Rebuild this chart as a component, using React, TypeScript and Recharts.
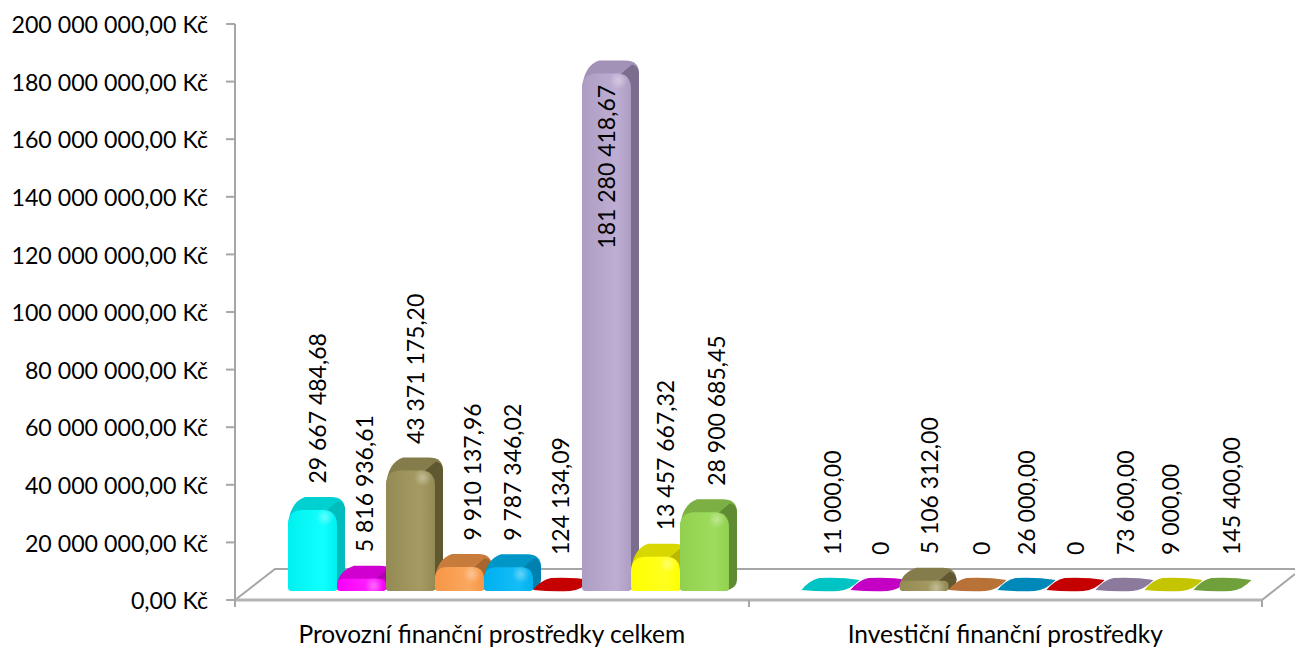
import { Bar, BarChart, LabelList, XAxis, YAxis } from "recharts";

const categories = ["Provozní finanční prostředky celkem", "Investiční finanční prostředky"];
const provozni = [29667484.68, 5816936.61, 43371175.2, 9910137.96, 9787346.02, 124134.09, 181280418.67, 13457667.32, 28900685.45];
const investicni = [11000, 0, 5106312, 0, 26000, 0, 73600, 9000, 145400];
const yTicks = [0, 20000000, 40000000, 60000000, 80000000, 100000000, 120000000, 140000000, 160000000, 180000000, 200000000];

const frontColors = ["#00f0f0", "#f800f8", "#948a54", "#f79646", "#00b0f0", "#ff0000", "#ae9dc2", "#ffff00", "#92d050"];
const lightColors = ["#10ffff", "#ff20ff", "#a59b62", "#fba85f", "#14bdf6", "#ff2020", "#bfaed3", "#ffff20", "#9ddc5c"];
const topColors = ["#00d0d0", "#d000d0", "#857c4c", "#c87c3c", "#0096c8", "#c40000", "#a392b8", "#d8d800", "#7cb044"];
const flatColors = ["#00c4c4", "#c400c4", "#7d7446", "#b87237", "#0089b8", "#c40000", "#8c7a9c", "#c4c400", "#70a03c"];
const sideColors = ["#00bcbc", "#b000b0", "#5f5830", "#a8662f", "#0080ae", "#a80000", "#7b6d8d", "#b8b800", "#5f8c32"];

// small sideways shifts of the rotated value labels, per category and series
const labelNudge = [
  [5, 3, 5, 13, 4, 2, 0, 10, 12],
  [6, 5, 5, 8, 4, 4, 5, 1, 13],
];

const SANS = "Lato, Carlito, sans-serif";
const GREY = "#a6a6a6";

const tableData = categories.map((name, c) => {
  const row: Record<string, string | number> = { name };
  const values = c === 0 ? provozni : investicni;
  values.forEach((v, i) => (row[`s${i}`] = v));
  return row;
});

const groupThousands = (s: string) => s.replace(/\B(?=(\d{3})+(?!\d))/g, " ");

const formatAxis = (v: number) => `${groupThousands(String(v))},00 Kč`;

const formatLabel = (v: number) => {
  if (v === 0) return "0";
  const [whole, dec] = v.toFixed(2).split(".");
  return `${groupThousands(whole)},${dec}`;
};

// the excel style 3d bar: top + side faces behind a rounded front
const Bar3D = (props: any) => {
  const { x, y, width, series } = props;
  const X = x + 17;
  const W = width;
  const base = 591;
  const top = Math.min(y - 17.5, 578);
  const ftop = top + 13;

  if (base - top <= 14) {
    // lens shaped top face for the almost empty bars
    const c = flatColors[series];
    return (
      <path
        d={`M${X} ${base - 1} Q${X + 8} ${top + 2} ${X + 18} ${top} Q${X + 40} ${top - 1} ${X + W + 9} ${top + 2} Q${X + W} ${base - 1} ${X + W - 12} ${base} Q${X + 20} ${base + 1} ${X} ${base - 1} Z`}
        fill={c}
      />
    );
  }

  const r = Math.min(15, (base - ftop) / 2);
  const right = X + W + 8;
  const back = `M${X} ${ftop + r} Q${X + 2} ${top + 5} ${X + 17} ${top} L${X + W - 6} ${top} Q${right} ${top} ${right} ${top + 13} L${X + W} ${ftop + r} Z`;
  const side = `M${X + W - 4} ${base} Q${right} ${base - 3} ${right} ${base - 11} L${right} ${top + 13} Q${right} ${top + 6} ${X + W + 1} ${top + 4} L${X + W - 12} ${ftop + 2} Z`;
  const front = `M${X + 3} ${base} Q${X} ${base} ${X} ${base - 4} L${X} ${ftop + r} Q${X} ${ftop} ${X + r} ${ftop} L${X + W - r} ${ftop} Q${X + W} ${ftop} ${X + W} ${ftop + r} L${X + W} ${base - 4} Q${X + W} ${base} ${X + W - 3} ${base} Z`;

  return (
    <g>
      <path d={back} fill={topColors[series]} />
      <path d={side} fill={sideColors[series]} />
      <path d={front} fill={`url(#front${series})`} />
      <circle cx={X + W - 12} cy={ftop + 7} r={9} fill="url(#shine)" />
    </g>
  );
};

const ValueLabel = (series: number) => (props: any) => {
  const { x, y, width, value, index } = props;
  const cx = x + 17 + width / 2 + labelNudge[index][series];
  const inside = value > 150000000;
  const start = inside ? y + 7 : Math.min(y - 31, 555);
  return (
    <text
      x={cx}
      y={start}
      transform={`rotate(-90 ${cx} ${start})`}
      textAnchor={inside ? "end" : "start"}
      dominantBaseline="central"
      fontFamily={SANS}
      fontSize={23}
      fill="#000"
    >
      {formatLabel(value)}
    </text>
  );
};

const Floor = () => (
  <g stroke={GREY} strokeWidth={2} fill="none">
    <path d="M235 600 L275 569 L1295 569" />
    <path d="M1262 600 L1295 574" />
    <path d="M235 600 L1262 600" strokeWidth={3} stroke="#b4b4b4" />
    <path d="M235 600 V607 M749 600 V607 M1262 600 V607" />
  </g>
);

export default function App() {
  return (
    <div style={{ position: "absolute", left: 0, top: 0 }}>
      <BarChart
        width={1295}
        height={647}
        data={tableData}
        margin={{ top: 24, right: 33, bottom: 0, left: 0 }}
        barCategoryGap={36}
        barGap={0}
      >
        <defs>
          {frontColors.map((c, i) => (
            <linearGradient key={i} id={`front${i}`} x1="0" y1="0" x2="1" y2="0">
              <stop offset="0" stopColor={c} />
              <stop offset="0.7" stopColor={lightColors[i]} />
              <stop offset="1" stopColor={c} />
            </linearGradient>
          ))}
          <radialGradient id="shine">
            <stop offset="0" stopColor="#fff" stopOpacity={0.35} />
            <stop offset="1" stopColor="#fff" stopOpacity={0} />
          </radialGradient>
        </defs>
        <Floor />
        <XAxis
          dataKey="name"
          height={47}
          axisLine={false}
          tickLine={false}
          interval={0}
          tickMargin={20}
          tick={{ fontFamily: SANS, fontSize: 24.5, fill: "#000" }}
        />
        <YAxis
          width={235}
          domain={[0, 200000000]}
          ticks={yTicks}
          tickFormatter={formatAxis}
          tickSize={9}
          tickMargin={18}
          interval={0}
          axisLine={{ stroke: GREY, strokeWidth: 2 }}
          tickLine={{ stroke: GREY, strokeWidth: 2 }}
          tick={{ fontFamily: SANS, fontSize: 23.2, fill: "#000", dy: 1 }}
        />
        {frontColors.map((_, i) => (
          <Bar
            key={i}
            dataKey={`s${i}`}
            isAnimationActive={false}
            shape={(p: any) => <Bar3D {...p} series={i} />}
          >
            <LabelList dataKey={`s${i}`} content={ValueLabel(i)} />
          </Bar>
        ))}
      </BarChart>
    </div>
  );
}
